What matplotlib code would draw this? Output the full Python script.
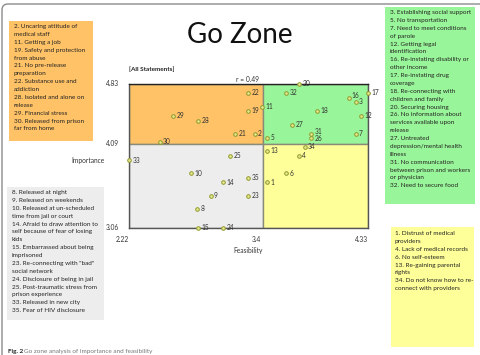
import matplotlib
matplotlib.use("Agg")
import matplotlib.pyplot as plt
from matplotlib.patches import Rectangle, FancyBboxPatch
from matplotlib.transforms import IdentityTransform

plt.rcParams['font.family'] = ['Lato', 'DejaVu Sans']

# statement numbers with their (feasibility, importance) ratings
ids = list(range(1, 36))
feasibility = [3.44, 3.33, 4.22, 3.72, 3.44, 3.61, 4.22, 2.82, 2.94, 2.77,
               3.39, 4.27, 3.44, 3.05, 2.83, 4.16, 4.33, 3.88, 3.27, 3.72,
               3.16, 3.27, 3.27, 3.05, 3.11, 3.83, 3.66, 2.83, 2.61, 2.49,
               3.83, 3.61, 2.22, 3.77, 3.27]
importance = [3.62, 4.22, 4.61, 3.95, 4.17, 3.73, 4.22, 3.29, 3.45, 3.73,
              4.55, 4.44, 4.01, 3.62, 3.06, 4.66, 4.72, 4.50, 4.50, 4.83,
              4.22, 4.72, 3.45, 3.06, 3.95, 4.17, 4.33, 4.38, 4.44, 4.12,
              4.22, 4.72, 3.89, 4.06, 3.68]

x_ticks = [2.22, 3.4, 4.33]
y_ticks = [3.06, 4.09, 4.83]
x_mid, y_mid = 3.4, 4.09

orange_items = ["2. Uncaring attitude of", "medical staff", "11. Getting a job",
                "19. Safety and protection", "from abuse", "21. No pre-release",
                "preparation", "22. Substance use and", "addiction",
                "28. Isolated and alone on", "release", "29. Financial stress",
                "30. Released from prison", "far from home"]
green_items = ["3. Establishing social support", "5. No transportation",
               "7. Need to meet conditions", "of parole", "12. Getting legal",
               "identification", "16. Re-instating disability or", "other income",
               "17. Re-instating drug", "coverage", "18. Re-connecting with",
               "children and family", "20. Securing housing",
               "26. No information about", "services available upon", "release",
               "27. Untreated", "depression/mental health", "illness",
               "31. No communication", "between prison and workers",
               "or physician", "32. Need to secure food"]
gray_items = ["8. Released at night", "9. Released on weekends",
              "10. Released at un-scheduled", "time from jail or court",
              "14. Afraid to draw attention to", "self because of fear of losing",
              "kids", "15. Embarrassed about being", "imprisoned",
              "23. Re-connecting with \"bad\"", "social network",
              "24. Disclosure of being in jail", "25. Post-traumatic stress from",
              "prison experience", "33. Released in new city",
              "35. Fear of HIV disclosure"]
yellow_items = ["1. Distrust of medical", "providers", "4. Lack of medical records",
                "6. No self-esteem", "13. Re-gaining parental", "rights",
                "34. Do not know how to re-", "connect with providers"]

ORANGE = '#FFC266'
GREEN = '#99F599'
GRAY = '#EDEDED'
YELLOW = '#FFFF99'

W, H = 481, 355
fig = plt.figure(figsize=(W / 100, H / 100), dpi=100)


def fx(px):
    return px / W


def fy(py):
    return 1 - py / H


# outer frame (only top and left edges show)
fig.patches.append(FancyBboxPatch((2, -20), 520, 351 + 20, transform=IdentityTransform(),
                                  boxstyle="round,pad=0,rounding_size=6",
                                  fc='none', ec='#8c8c8c', lw=1.0))

ax = fig.add_axes([fx(129), fy(228), fx(368) - fx(129), fy(84) - fy(228)])
ax.set_xlim(x_ticks[0], x_ticks[-1])
ax.set_ylim(y_ticks[0], y_ticks[-1])

x0, x1 = x_ticks[0], x_ticks[-1]
y0, y1 = y_ticks[0], y_ticks[-1]
for (xa, xb, ya, yb, c) in [(x0, x_mid, y_mid, y1, ORANGE), (x_mid, x1, y_mid, y1, GREEN),
                            (x0, x_mid, y0, y_mid, GRAY), (x_mid, x1, y0, y_mid, YELLOW)]:
    ax.add_patch(Rectangle((xa, ya), xb - xa, yb - ya, fc=c, ec='#8a8a7a', lw=1.0, zorder=1))

for s in ax.spines.values():
    s.set_color('#555555')
    s.set_linewidth(1.0)
ax.spines['top'].set_color('#222222')

ax.plot(feasibility, importance, 'o', ms=2.6, mfc='#E8E890', mec='#8E9A2A', mew=0.7,
        clip_on=False, zorder=3)
for i, xv, yv in zip(ids, feasibility, importance):
    off = (2.5, 0.3)
    if i == 16:
        off = (2.0, 2.0)
    elif i == 31:
        off = (2.5, 1.2)
    elif i == 26:
        off = (2.5, -0.6)
    ax.annotate(str(i), (xv, yv), xytext=off, textcoords='offset points',
                fontsize=4.8, color='#333333', va='center', ha='left',
                annotation_clip=False, zorder=4)

ax.set_xticks([])
ax.set_yticks([])
ax.tick_params(length=0)
for xv in x_ticks:
    ax.annotate(str(xv), (xv, y0), xytext=(-4.5, -8), textcoords='offset points',
                fontsize=4.8, color='#333333', ha='center', va='center',
                annotation_clip=False)
for yv in y_ticks:
    ax.annotate(str(yv), (x0, yv), xytext=(-7, 0.5), textcoords='offset points',
                fontsize=4.8, color='#333333', ha='right', va='center',
                annotation_clip=False)

fig.text(fx(248), fy(251), "Feasibility", fontsize=4.8, color='#333333', ha='center', va='center')
fig.text(fx(105), fy(160), "Importance", fontsize=4.8, color='#333333', ha='right', va='center')
fig.text(fx(129), fy(69), "[All Statements]", fontsize=4.6, color='#222222',
         fontweight='bold', ha='left', va='center')
fig.text(fx(248), fy(79), "r = 0.49", fontsize=4.8, color='#333333', ha='center', va='center')
fig.text(fx(240), fy(35), "Go Zone", fontsize=20, color='#111111', ha='center', va='center')


def text_box(items, left, top, right, bottom, color, tx, ty):
    fig.patches.append(Rectangle((fx(left), fy(bottom)), fx(right) - fx(left),
                                 fy(top) - fy(bottom), transform=fig.transFigure,
                                 fc=color, ec='none', zorder=0))
    fig.text(fx(tx), fy(ty), "\n".join(items), fontsize=4.6, color='#222222',
             ha='left', va='top', linespacing=1.72)


text_box(orange_items, 9, 21, 93, 141, ORANGE, 14, 24)
text_box(green_items, 385, 7, 475, 204, GREEN, 390, 10)
text_box(gray_items, 7, 187, 104, 320, GRAY, 12, 190)
text_box(yellow_items, 391, 227, 474, 347, YELLOW, 395, 231)

fig.text(fx(8), 0.002, "Fig. 2", fontsize=4.6, fontweight='bold', color='#222222',
         ha='left', va='bottom')
fig.text(fx(24), 0.002, "Go zone analysis of importance and feasibility",
         fontsize=4.6, color='#777777', ha='left', va='bottom')

fig.savefig("out.png", dpi=100)
